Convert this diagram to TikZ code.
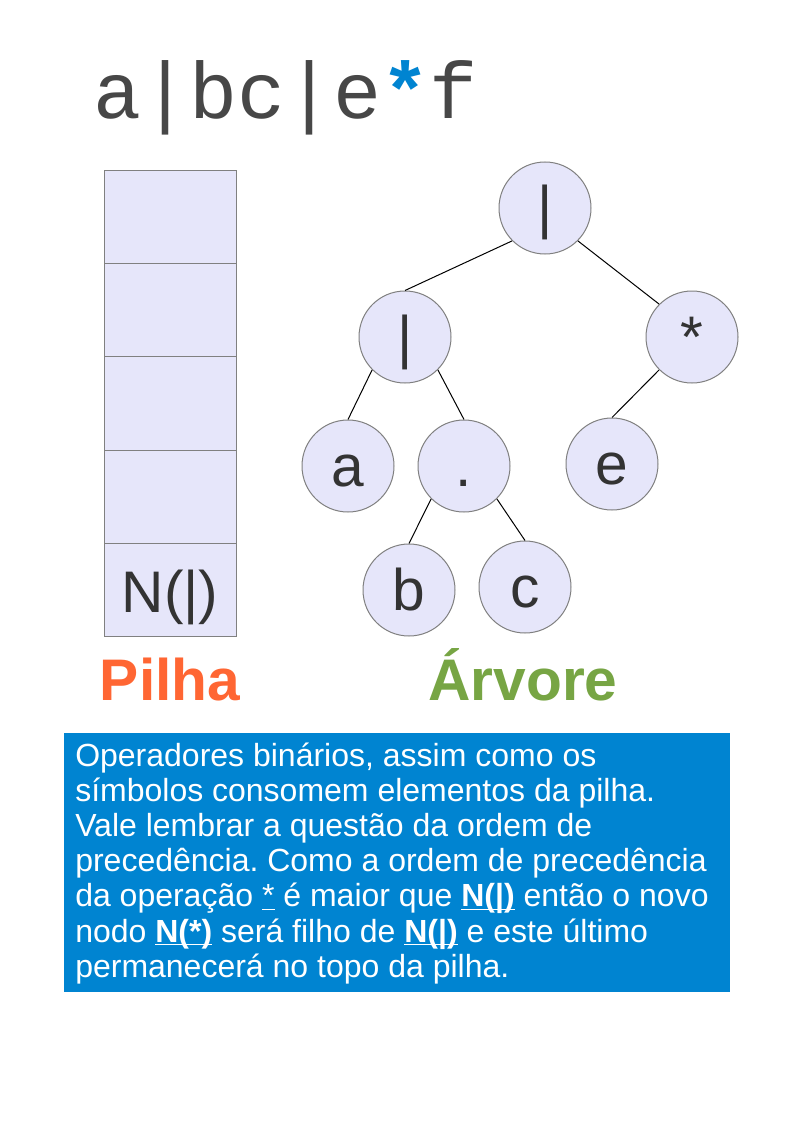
\documentclass[tikz,border=0pt]{standalone}
\usepackage{fontspec}
\setmainfont{Liberation Sans}
\newfontfamily\monofont{Liberation Mono}
\frenchspacing
\definecolor{txtgray}{HTML}{333333}
\definecolor{boxblue}{HTML}{0084D1}
\definecolor{lav}{HTML}{E6E6FA}
\definecolor{edgegray}{HTML}{808080}
\definecolor{pilhaorange}{HTML}{FF6633}
\definecolor{arvgreen}{HTML}{77A544}
\newcommand\myul[1]{\setbox0\hbox{#1}\rlap{\rule[-2.4pt]{\wd0}{1.1pt}}\box0\relax}
\begin{document}
\begin{tikzpicture}[x=0.75pt,y=-0.75pt,
  tnode/.style={circle,draw=edgegray,line width=0.75pt,fill=lav,minimum size=69pt,inner sep=0pt,
    font=\fontsize{44}{44}\selectfont,text=txtgray,text height=30pt,text depth=0pt},
  cell/.style={rectangle,draw=edgegray,line width=0.75pt,fill=lav,minimum width=99pt,minimum height=70pt,inner sep=0pt,
    font=\fontsize{44}{44}\selectfont,text=txtgray,text height=32.6pt,text depth=0pt},
  tedge/.style={draw=black,line width=0.75pt},
  bigtitle/.style={font=\fontsize{44}{44}\selectfont\bfseries,anchor=base,inner sep=0pt},
  bodyline/.style={font=\fontsize{24}{26}\selectfont,text=white,anchor=base west,inner sep=0pt}
]
\useasboundingbox (0,0) rectangle (794,1123);
\fill[white] (0,0) rectangle (794,1123);

% title
\node[anchor=base west,inner sep=0pt,text=txtgray!90,font=\fontsize{60}{60}\monofont] (title) at (93,119)
  {a|bc|e{\bfseries\color{boxblue}*}f};

% stack
\node[cell] (s1) at (170,216.7) {};
\node[cell] (s2) at (170,310.1) {};
\node[cell] (s3) at (170,403.5) {};
\node[cell] (s4) at (170,496.9) {};
\node[cell] (s5) at (170,590.3) {N(|)};

% tree
\node[tnode] (root) at (545,208) {|};
\node[tnode] (l) at (405,337) {|};
\node[tnode] (star) at (692,337) {*};
\node[tnode] (a) at (348,466) {a};
\node[tnode] (dot) at (464,466) {.};
\node[tnode] (e) at (612,464) {e};
\node[tnode] (b) at (409,590) {b};
\node[tnode] (c) at (525,587) {c};

\draw[tedge] (root.225) -- (l.north);
\draw[tedge] (root.315) -- (star.135);
\draw[tedge] (l.225) -- (a.north);
\draw[tedge] (l.315) -- (dot.north);
\draw[tedge] (star.225) -- (e.north);
\draw[tedge] (dot.225) -- (b.north);
\draw[tedge] (dot.315) -- (c.north);

% labels
\node[bigtitle,text=pilhaorange] (pilha) at (170,700) {Pilha};
\node[bigtitle,text=arvgreen] (arvore) at (523,700) {Árvore};

% text box
\fill[boxblue] (64,733) rectangle (730,992);
\node[bodyline] (t1) at (75,766) {Operadores binários, assim como os};
\node[bodyline] (t2) at (75,801.2) {símbolos consomem elementos da pilha.};
\node[bodyline] (t3) at (75,836.4) {Vale lembrar a questão da ordem de};
\node[bodyline] (t4) at (75,871.6) {precedência. Como a ordem de precedência};
\node[bodyline] (t5) at (75,906.8) {da operação \myul{*} é maior que \myul{\bfseries N(|)} então o novo};
\node[bodyline] (t6) at (75,942) {nodo \myul{\bfseries N(*)} será filho de \myul{\bfseries N(|)} e este último};
\node[bodyline] (t7) at (75,977.2) {permanecerá no topo da pilha.};
\end{tikzpicture}
\end{document}
